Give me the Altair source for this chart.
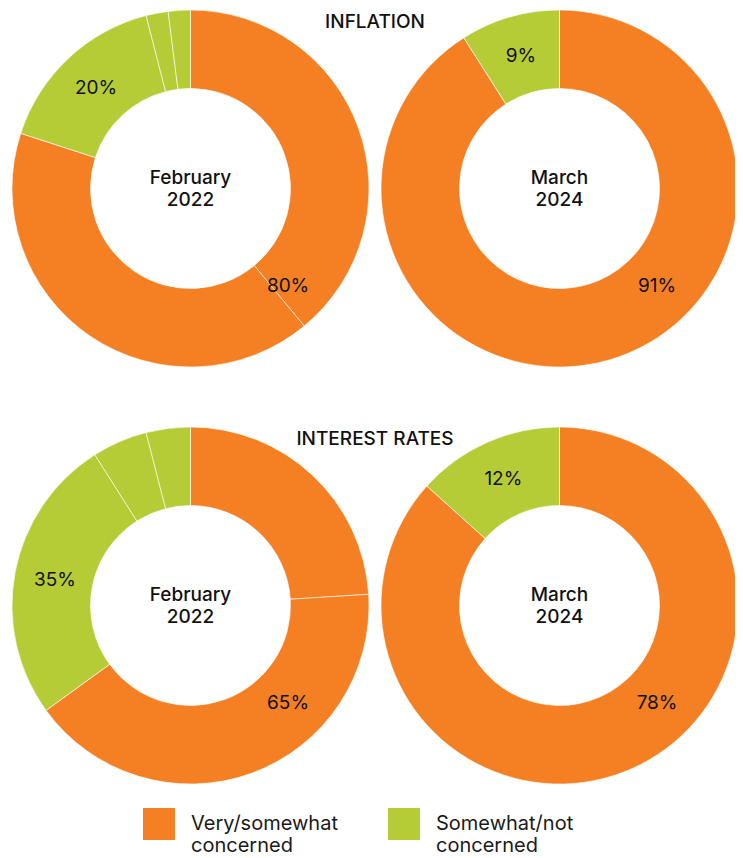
import math
import altair as alt
import pandas as pd

# ---------------- data ----------------
topics = ["INFLATION", "INFLATION", "INTEREST RATES", "INTEREST RATES"]
periods = ["February 2022", "March 2024", "February 2022", "March 2024"]
concerned_parts = [[39, 41], [91], [24, 41], [78]]
not_concerned_parts = [[16, 2, 2], [9], [26, 5, 4], [12]]
concerned_labels = ["80%", "91%", "65%", "78%"]
not_concerned_labels = ["20%", "9%", "35%", "12%"]
categories = ["Very/somewhat concerned", "Somewhat/not concerned"]
colors = ["#F58024", "#B5CC37"]

topic_order = ["INFLATION", "INTEREST RATES"]
period_order = ["February 2022", "March 2024"]

FONT = "Inter"
W, H = 727, 850

# ---------------- tables ----------------
seg_rows = []
label_rows = []
for i in range(len(topics)):
    parts = [(categories[0], v) for v in concerned_parts[i]] + \
            [(categories[1], v) for v in not_concerned_parts[i]]
    total = sum(v for _, v in parts)
    acc = 0
    first_green = None
    for cat, v in parts:
        start = acc / total
        acc += v
        end = acc / total
        seg_rows.append(dict(topic=topics[i], period=periods[i], category=cat,
                             start=start, end=end))
        if cat == categories[1] and first_green is None:
            first_green = (start + end) / 2
    label_rows.append(dict(topic=topics[i], period=periods[i], label=concerned_labels[i],
                           angle=0.375))
    label_rows.append(dict(topic=topics[i], period=periods[i], label=not_concerned_labels[i],
                           angle=first_green))

segs = pd.DataFrame(seg_rows)
labels = pd.DataFrame(label_rows)
centers = pd.DataFrame(dict(topic=topics, period=periods))
titles = pd.DataFrame(dict(topic=topic_order))

xs = alt.X("period:N", axis=None,
           scale=alt.Scale(type="point", domain=period_order, range=[182.5, 551.5], padding=0))
ys = alt.Y("topic:N", axis=None,
           scale=alt.Scale(type="point", domain=topic_order, range=[180.5, 597.5], padding=0))
theta_scale = alt.Scale(domain=[0, 1], range=[0, 2 * math.pi], zero=False, nice=False)

arcs = alt.Chart(segs).mark_arc(
    innerRadius=100, outerRadius=178.5, stroke="white", strokeWidth=0.6
).encode(
    x=xs, y=ys,
    theta=alt.Theta("start:Q", scale=theta_scale, stack=False),
    theta2="end:Q",
    color=alt.Color(
        "category:N",
        scale=alt.Scale(domain=categories, range=colors),
        legend=alt.Legend(
            title=None, orient="none", legendX=135, legendY=800,
            direction="horizontal", symbolType="square", symbolSize=1024,
            symbolStrokeWidth=0, symbolOpacity=1,
            labelFont=FONT, labelFontSize=20, labelColor="#1a1a1a",
            labelExpr="split(datum.label, ' ')", labelOffset=16,
            columnPadding=50, labelLimit=400, padding=0, labelBaseline="middle",
        ),
    ),
)

pct = alt.Chart(labels).mark_text(
    radius=138, font=FONT, fontSize=19, fontWeight=400, color="#111111",
    align="center", baseline="middle"
).encode(
    x=xs, y=ys,
    theta=alt.Theta("angle:Q", scale=theta_scale, stack=False),
    text="label:N",
)

centre = alt.Chart(centers).mark_text(
    font=FONT, fontSize=19, fontWeight=500, color="#111111",
    align="center", baseline="middle", lineBreak=" ", lineHeight=22, dy=-11
).encode(x=xs, y=ys, text="period:N")

title = alt.Chart(titles).mark_text(
    font=FONT, fontSize=19, fontWeight=500, color="#111111",
    align="center", baseline="middle", dy=-167
).encode(x=alt.value(367), y=ys, text="topic:N")

chart = alt.layer(arcs, pct, centre, title).properties(
    width=W, height=H, autosize=alt.AutoSizeParams(type="none"), padding=0,
    background="white"
).configure_view(stroke=None)

chart.save("out.html", embed_options={"renderer": "svg", "actions": False})
